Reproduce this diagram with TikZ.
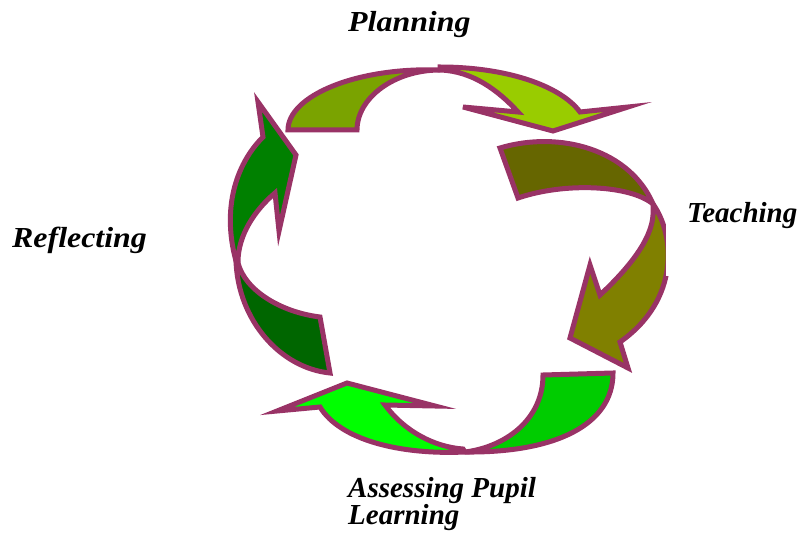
\documentclass[tikz,border=0pt]{standalone}
\usepackage{graphicx}
\usepackage{fontspec}
\setmainfont{Liberation Serif}
\usetikzlibrary{%
  positioning
}
\definecolor{rim}{HTML}{993366}
\definecolor{planA}{HTML}{7AA300}
\definecolor{planB}{HTML}{99CC00}
\definecolor{teachA}{HTML}{666600}
\definecolor{teachB}{HTML}{808000}
\definecolor{assessA}{HTML}{00CC00}
\definecolor{assessB}{HTML}{00FF00}
\definecolor{reflA}{HTML}{008000}
\definecolor{reflB}{HTML}{006600}
\tikzstyle{cyc}=[x=1pt,y=-1pt]
\tikzstyle{half}=[draw=rim,line width=5pt,line join=miter]
\tikzstyle{lbl}=[font=\fontsize{29}{27}\selectfont\bfseries\itshape,anchor=base west,inner sep=0pt,align=left]
\newcommand{\wide}[1]{\scalebox{1.1}[1]{#1}}

\begin{document}
\begin{tikzpicture}[cyc]
  \useasboundingbox (0,0) rectangle (800,537);
  % top arrow
  \draw[half,fill=planA] (288,130) -- (357,130)
    .. controls (357,98) and (394,70) .. (440,70)
    .. controls (356,67) and (288,96) .. (288,130) -- cycle;
  \draw[half,fill=planB] (440,67)
    .. controls (505,67) and (560,85) .. (580,112)
    -- (628,107) -- (553,131) -- (463,107) -- (518,112)
    .. controls (498,90) and (472,71) .. (440,70) -- cycle;
  % right arrow
  \draw[half,fill=teachA] (500,148)
    .. controls (560,130) and (630,150) .. (653,204)
    .. controls (630,185) and (565,182) .. (518,198) -- cycle;
  \draw[half,fill=teachB] (653,204)
    .. controls (675,235) and (680,300) .. (620,342)
    -- (628,368) -- (570,338) -- (590,265) -- (600,295)
    .. controls (632,265) and (655,235) .. (653,209) -- cycle;
  % bottom arrow
  \draw[half,fill=assessA] (543,375) -- (613,373)
    .. controls (613,425) and (555,453) .. (465,452)
    .. controls (505,447) and (543,420) .. (543,375) -- cycle;
  \draw[half,fill=assessB] (465,452)
    .. controls (400,455) and (340,440) .. (320,407)
    -- (277,411) -- (347,383) -- (435,406) -- (385,405)
    .. controls (405,432) and (435,447) .. (463,449) -- cycle;
  % left arrow
  \draw[half,fill=reflA] (236,261)
    .. controls (222,210) and (235,165) .. (263,137)
    -- (258,102) -- (296,155) -- (279,231) -- (275,193)
    .. controls (255,210) and (238,235) .. (238,262) -- cycle;
  \draw[half,fill=reflB] (236,261)
    .. controls (238,320) and (280,368) .. (330,373)
    -- (320,317)
    .. controls (280,312) and (245,290) .. (238,263) -- cycle;

  % labels (Teaching sits on a white text box)
  \node[lbl] (plan) at (348,32) {\wide{Planning}};
  \fill[white] (666,196) rectangle (800,276);
  \node[lbl] (teach) at (687,223) {Teaching};
  \node[lbl] (refl) at (12,248) {\wide{Reflecting}};
  \node[lbl] (assess) at (348,524) {Assessing Pupil\\Learning};
\end{tikzpicture}
\end{document}
